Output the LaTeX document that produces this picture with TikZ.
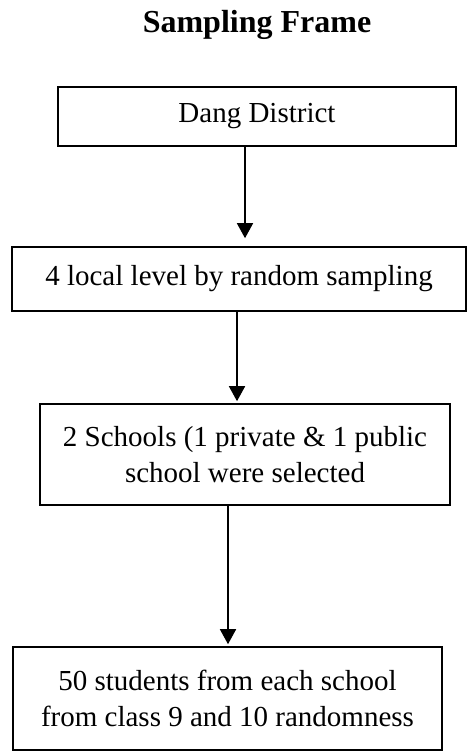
\documentclass[tikz,border=0pt]{standalone}
\usepackage{fontspec}
\setmainfont{Liberation Serif}
\usetikzlibrary{arrows.meta,positioning}
\tikzset{
mybox/.style={
  draw=black,
  line width=1.6pt,
  inner sep=0pt,
  align=center,
  font=\fontsize{29}{36.5}\selectfont
  },
myarrow/.style={
  line width=1.6pt,
  -{Triangle[width=16pt,length=15pt]}
  }
}

\begin{document}
\begin{tikzpicture}[x=1pt,y=-1pt]
\useasboundingbox (0,0) rectangle (467,751);

\node[anchor=base,font=\fontsize{32}{38}\selectfont\bfseries] (title) at (257,33) {Sampling Frame};

\node[mybox,minimum width=398pt,minimum height=59pt] (dang) at (257,116.5) {Dang District};
\node[mybox,minimum width=454pt,minimum height=64pt] (local) at (239,279) {4 local level by random sampling};
\node[mybox,minimum width=410pt,minimum height=101pt] (schools) at (245,454.5)
  {2 Schools (1 private \& 1 public\\school were selected};
\node[mybox,minimum width=429pt,minimum height=103pt] (students) at (227.5,698.5)
  {50 students from each school\\from class 9 and 10 randomness};

\draw[myarrow,shorten >=8pt] ([xshift=-12pt]dang.south) -- ([xshift=6pt]local.north);
\draw[myarrow,shorten >=2pt] ([xshift=-2pt]local.south) -- ([xshift=-8pt]schools.north);
\draw[myarrow,shorten >=2pt] ([xshift=-17pt]schools.south) -- ([xshift=0.5pt]students.north);

\end{tikzpicture}
\end{document}
